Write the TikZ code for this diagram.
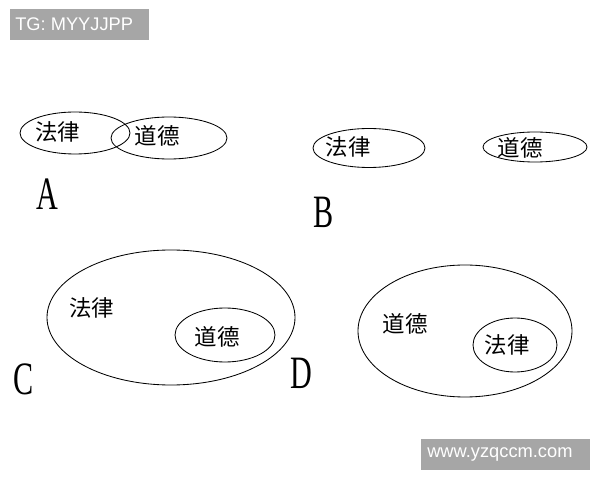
\documentclass[tikz,border=0pt]{standalone}
\usepackage{fontspec}
\setmainfont{Liberation Serif}
\setsansfont{Liberation Sans}
\newfontfamily\cjk{Noto Sans CJK SC}
\usepackage{tikz}

\definecolor{stampgray}{RGB}{166,166,166}

\tikzset{
	set/.style={line width=0.6pt},
	word/.style={font=\cjk\fontsize{16}{16}\selectfont, inner sep=0pt},
	case/.style={font=\fontsize{33}{33}\selectfont, xscale=0.65, inner sep=0pt},
	stamp/.style={font=\sffamily\fontsize{13}{13}\selectfont, text=white, inner sep=0pt, anchor=west}
}

\begin{document}
\begin{tikzpicture}
	\useasboundingbox (0,0) rectangle (15,12);

	% Stamps
	\fill[stampgray] (0.25,11.0) rectangle (3.725,11.775);
	\node[stamp] (tg) at (0.375,11.39) {TG: MYYJJPP};
	\fill[stampgray] (10.525,0.25) rectangle (14.75,1.025);
	\node[stamp] (web) at (10.675,0.63) {www.yzqccm.com};

	% Case A: overlapping
	\draw[set] (1.875,8.675) ellipse (1.375 and 0.525);
	\draw[set] (4.225,8.55) ellipse (1.45 and 0.525);
	\node[word] (lawA) at (1.45,8.7) {法律};
	\node[word] (moralA) at (3.925,8.6) {道德};
	\node[case] (caseA) at (1.175,7.15) {A};

	% Case B: apart
	\draw[set] (9.225,8.3) ellipse (1.4 and 0.4875);
	\draw[set] (13.375,8.325) ellipse (1.3 and 0.375);
	\node[word] (lawB) at (8.7,8.325) {法律};
	\node[word] (moralB) at (13.0,8.3) {道德};
	\node[case] (caseB) at (8.1,6.7) {B};

	% Case C: law holds morals
	\draw[set] (4.275,4.0625) ellipse (3.1 and 1.6875);
	\draw[set] (5.625,3.625) ellipse (1.25 and 0.675);
	\node[word] (lawC) at (2.3,4.3) {法律};
	\node[word] (moralC) at (5.425,3.575) {道德};
	\node[case] (caseC) at (0.6,2.525) {C};

	% Case D: morals hold law
	\draw[set] (11.625,3.725) ellipse (2.675 and 1.65);
	\draw[set] (12.875,3.375) ellipse (1.05 and 0.675);
	\node[word] (moralD) at (10.125,3.9) {道德};
	\node[word] (lawD) at (12.675,3.375) {法律};
	\node[case] (caseD) at (7.525,2.675) {D};

\end{tikzpicture}
\end{document}
